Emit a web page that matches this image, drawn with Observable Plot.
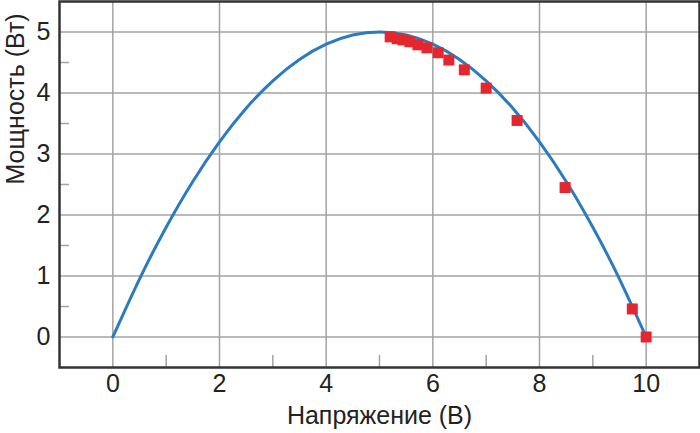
<!DOCTYPE html>
<html>
<head>
<meta charset="utf-8">
<script src="https://cdn.jsdelivr.net/npm/d3@7"></script>
<script src="https://cdn.jsdelivr.net/npm/@observablehq/plot@0.6"></script>
<style>
  html, body { margin: 0; padding: 0; background: #fff; }
  #chart svg { display: block; }
</style>
</head>
<body>
<div id="chart"></div>
<script>
// Curve: power vs voltage
const curveV = [0, 0.5, 1, 1.5, 2, 2.5, 3, 3.5, 4, 4.5, 5, 5.5, 6, 6.5, 7, 7.5, 8, 8.5, 9, 9.5, 10];
const curveP = [0, 0.95, 1.8, 2.55, 3.2, 3.75, 4.2, 4.55, 4.8, 4.95, 5, 4.95, 4.8, 4.55, 4.2, 3.75, 3.2, 2.55, 1.8, 0.95, 0];

// Measured points (red squares)
const measV = [5.20, 5.33, 5.44, 5.57, 5.72, 5.89, 6.10, 6.30, 6.59, 7.00, 7.58, 8.48, 9.74, 10.0];
const measP = [4.92, 4.89, 4.87, 4.84, 4.79, 4.74, 4.66, 4.54, 4.38, 4.08, 3.55, 2.45, 0.46, 0];

// Ticks
const xTicks = [0, 2, 4, 6, 8, 10];
const yTicks = [0, 1, 2, 3, 4, 5];
const xMinor = [1, 3, 5, 7, 9];
const yMinor = [0.5, 1.5, 2.5, 3.5, 4.5];

const xTitle = "Напряжение (В)";
const yTitle = "Мощность (Вт)";

const curve = curveV.map((v, i) => ({v, p: curveP[i]}));
const meas = measV.map((v, i) => ({v, p: measP[i]}));

const grid = "#a3a3a3";
const fs = 25;
const chart = Plot.plot({
  width: 700,
  height: 433,
  marginLeft: 59,
  marginRight: 1,
  marginTop: 1,
  marginBottom: 66,
  style: {fontFamily: "'Liberation Sans', Arial, sans-serif", fontSize: fs + "px", color: "#222", background: "#fff"},
  x: {domain: [-1, 11]},
  y: {domain: [-0.5, 5.5]},
  marks: [
    Plot.gridX(xTicks, {stroke: grid, strokeOpacity: 1, strokeWidth: 1.5}),
    Plot.gridY(yTicks, {stroke: grid, strokeOpacity: 1, strokeWidth: 1.5}),
    Plot.axisX(xMinor, {tickSize: -12, tickFormat: () => "", stroke: grid, strokeWidth: 1.5, label: null}),
    Plot.axisY(yMinor, {anchor: "left", tickSize: -10, tickFormat: () => "", stroke: grid, strokeWidth: 1.5, label: null}),
    Plot.axisX(xTicks, {tickSize: 0, tickPadding: 7, tickFormat: d => String(d), label: null, fill: "#222", fontSize: fs}),
    Plot.axisY(yTicks, {tickSize: 0, tickPadding: 9, tickFormat: d => String(d), label: null, fill: "#222", fontSize: fs}),
    Plot.line(curve, {x: "v", y: "p", curve: "natural", stroke: "#2a7bc0", strokeWidth: 3}),
    Plot.dot(meas, {x: "v", y: "p", symbol: "square", r: 6.2, fill: "#e5262f", stroke: "none"}),
    Plot.frame({stroke: "#333", strokeWidth: 2.5}),
    Plot.text([xTitle], {frameAnchor: "bottom", dy: 56, text: d => d, fill: "#222", fontSize: fs}),
    Plot.text([yTitle], {frameAnchor: "left", dx: -44, rotate: -90, text: d => d, fill: "#222", fontSize: fs})
  ]
});
document.getElementById("chart").append(chart);
</script>
</body>
</html>
